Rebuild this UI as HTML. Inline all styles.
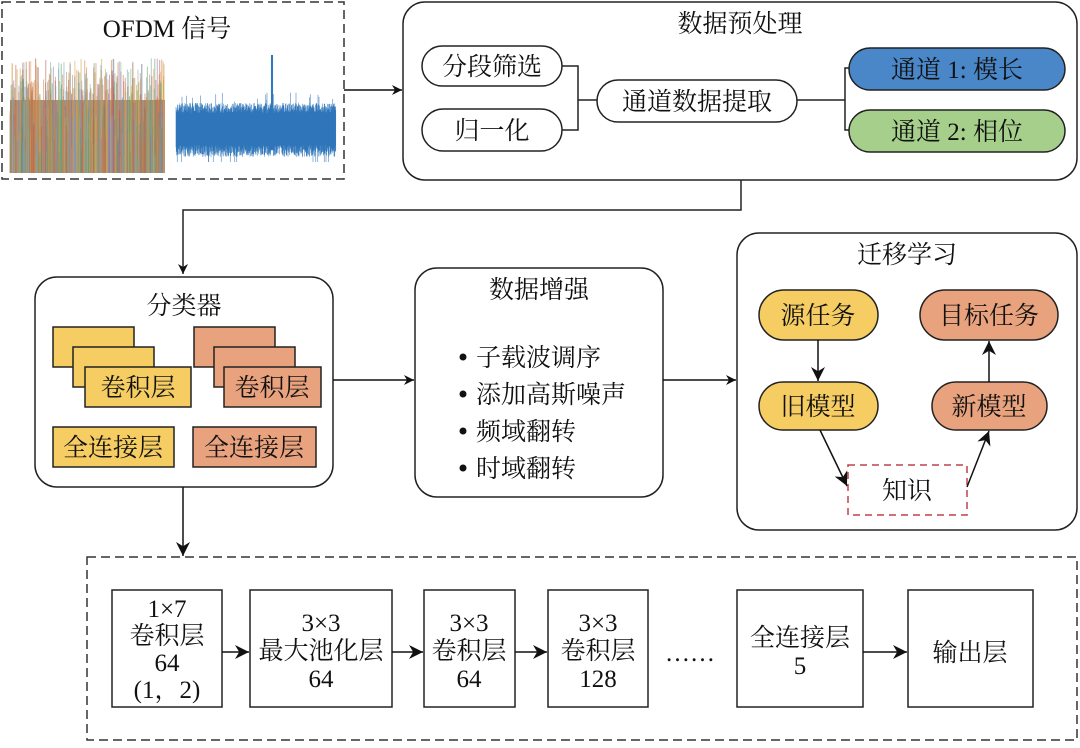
<!DOCTYPE html>
<html><head><meta charset="utf-8"><style>
html,body{margin:0;padding:0;background:#fff}
svg text{font-family:"Liberation Serif","Noto Serif CJK SC",serif;font-size:25px;fill:#111}
</style></head><body>
<svg id="s" width="1080" height="743" viewBox="0 0 1080 743" xmlns="http://www.w3.org/2000/svg">
<defs>
<marker id="a" viewBox="0 0 10 10" refX="10" refY="5" markerWidth="10" markerHeight="10" orient="auto" markerUnits="userSpaceOnUse"><path d="M0,0L10,5L0,10L3,5z" fill="#111"/></marker>
<marker id="b" viewBox="0 0 10 10" refX="10" refY="5" markerWidth="14" markerHeight="14" orient="auto" markerUnits="userSpaceOnUse"><path d="M0,0L10,5L0,10L3,5z" fill="#111"/></marker>
</defs>
<!-- OFDM -->
<rect x="2" y="2" width="342" height="177" fill="none" stroke="#333" stroke-width="1.5" stroke-dasharray="9,5"/>
<text x="167" y="37" text-anchor="middle">OFDM 信号</text>
<rect x="10" y="100" width="155" height="73" fill="#b09070"/>
<g id="sig"></g>
<line x1="344" y1="90" x2="402" y2="90" stroke="#111" stroke-width="1.5" marker-end="url(#a)"/>
<!-- preprocessing -->
<rect x="403" y="2" width="674" height="178" rx="22" fill="none" stroke="#222" stroke-width="1.5"/>
<text x="740" y="32" text-anchor="middle">数据预处理</text>
<rect x="422" y="46" width="140" height="40" rx="20" fill="#fff" stroke="#222" stroke-width="1.5"/>
<text x="492" y="75" text-anchor="middle">分段筛选</text>
<rect x="422" y="109" width="140" height="42" rx="21" fill="#fff" stroke="#222" stroke-width="1.5"/>
<text x="492" y="139" text-anchor="middle">归一化</text>
<path d="M562,66H578V130H562M578,100H597" fill="none" stroke="#222" stroke-width="1.5"/>
<rect x="597" y="80" width="200" height="42" rx="21" fill="#fff" stroke="#222" stroke-width="1.5"/>
<text x="697" y="110" text-anchor="middle">通道数据提取</text>
<path d="M797,100H845M849,68H845V130H849" fill="none" stroke="#222" stroke-width="1.5"/>
<rect x="849" y="48" width="216" height="42" rx="21" fill="#4a87c8" stroke="#222" stroke-width="1.5"/>
<text x="957" y="78" text-anchor="middle">通道 1: 模长</text>
<rect x="849" y="110" width="216" height="42" rx="21" fill="#a5cf8a" stroke="#222" stroke-width="1.5"/>
<text x="957" y="140" text-anchor="middle">通道 2: 相位</text>
<path d="M741,180V210H183V274" fill="none" stroke="#222" stroke-width="1.5" marker-end="url(#a)"/>
<!-- classifier -->
<rect x="35" y="277" width="298" height="210" rx="22" fill="none" stroke="#222" stroke-width="1.5"/>
<text x="184" y="314" text-anchor="middle">分类器</text>
<g stroke="#222" stroke-width="1.5">
<rect x="53" y="327" width="81" height="40" fill="#f5cd62"/>
<rect x="73" y="347" width="81" height="40" fill="#f5cd62"/>
<rect x="85" y="367" width="106" height="40" fill="#f5cd62"/>
<rect x="53" y="427" width="121" height="40" fill="#f5cd62"/>
<rect x="194" y="327" width="81" height="40" fill="#e8a27d"/>
<rect x="214" y="347" width="81" height="40" fill="#e8a27d"/>
<rect x="224" y="367" width="97" height="40" fill="#e8a27d"/>
<rect x="193" y="427" width="123" height="40" fill="#e8a27d"/>
</g>
<text x="138" y="396" text-anchor="middle">卷积层</text>
<text x="272" y="396" text-anchor="middle">卷积层</text>
<text x="113" y="456" text-anchor="middle">全连接层</text>
<text x="254" y="456" text-anchor="middle">全连接层</text>
<line x1="333" y1="380" x2="414" y2="380" stroke="#111" stroke-width="1.5" marker-end="url(#a)"/>
<!-- data enhancement -->
<rect x="415" y="268" width="248" height="229" rx="22" fill="none" stroke="#222" stroke-width="1.5"/>
<text x="539" y="298" text-anchor="middle">数据增强</text>
<g>
<circle cx="463" cy="357" r="3.5" fill="#111"/><text x="476" y="366">子载波调序</text>
<circle cx="463" cy="394" r="3.5" fill="#111"/><text x="476" y="403">添加高斯噪声</text>
<circle cx="463" cy="431" r="3.5" fill="#111"/><text x="476" y="440">频域翻转</text>
<circle cx="463" cy="468" r="3.5" fill="#111"/><text x="476" y="477">时域翻转</text>
</g>
<line x1="663" y1="380" x2="736" y2="380" stroke="#111" stroke-width="1.5" marker-end="url(#a)"/>
<!-- transfer -->
<rect x="737" y="233" width="340" height="297" rx="22" fill="none" stroke="#222" stroke-width="1.5"/>
<text x="907" y="263" text-anchor="middle">迁移学习</text>
<rect x="759" y="290" width="119" height="50" rx="25" fill="#f5cd62" stroke="#222" stroke-width="1.5"/>
<text x="818" y="324" text-anchor="middle">源任务</text>
<rect x="920" y="290" width="138" height="50" rx="25" fill="#e8a27d" stroke="#222" stroke-width="1.5"/>
<text x="989" y="324" text-anchor="middle">目标任务</text>
<rect x="759" y="382" width="119" height="48" rx="24" fill="#f5cd62" stroke="#222" stroke-width="1.5"/>
<text x="818" y="415" text-anchor="middle">旧模型</text>
<rect x="932" y="382" width="115" height="48" rx="24" fill="#e8a27d" stroke="#222" stroke-width="1.5"/>
<text x="989" y="415" text-anchor="middle">新模型</text>
<rect x="848" y="465" width="119" height="50" fill="#fff" stroke="#c0404a" stroke-width="1.5" stroke-dasharray="7,5"/>
<text x="907" y="499" text-anchor="middle">知识</text>
<g stroke="#111" stroke-width="1.5" fill="none">
<line x1="818" y1="340" x2="818" y2="381" marker-end="url(#b)"/>
<line x1="989" y1="382" x2="989" y2="341" marker-end="url(#b)"/>
<line x1="820" y1="430" x2="847" y2="486" marker-end="url(#b)"/>
<line x1="967" y1="487" x2="989" y2="431" marker-end="url(#b)"/>
<line x1="183" y1="487" x2="183" y2="556" marker-end="url(#b)"/>
</g>
<!-- bottom -->
<rect x="87" y="557" width="990" height="183" fill="none" stroke="#333" stroke-width="1.5" stroke-dasharray="9,5"/>
<g fill="#fff" stroke="#222" stroke-width="1.5">
<rect x="112" y="590" width="110" height="117"/>
<rect x="250" y="590" width="142" height="117"/>
<rect x="424" y="590" width="91" height="117"/>
<rect x="548" y="590" width="100" height="117"/>
<rect x="737" y="590" width="126" height="117"/>
<rect x="908" y="590" width="125" height="117"/>
</g>
<g text-anchor="middle">
<text x="167" y="617">1×7</text><text x="167" y="644">卷积层</text><text x="167" y="671">64</text><text x="167" y="698">(1，2)</text>
<text x="321" y="631">3×3</text><text x="321" y="659">最大池化层</text><text x="321" y="687">64</text>
<text x="469" y="631">3×3</text><text x="469" y="659">卷积层</text><text x="469" y="687">64</text>
<text x="598" y="631">3×3</text><text x="598" y="659">卷积层</text><text x="598" y="687">128</text>
<text x="690" y="661">……</text>
<text x="800" y="646">全连接层</text><text x="800" y="674">5</text>
<text x="970" y="661">输出层</text>
</g>
<g stroke="#111" stroke-width="1.5">
<line x1="222" y1="652" x2="249" y2="652" marker-end="url(#b)"/>
<line x1="392" y1="652" x2="423" y2="652" marker-end="url(#b)"/>
<line x1="515" y1="652" x2="547" y2="652" marker-end="url(#b)"/>
<line x1="863" y1="652" x2="907" y2="652" marker-end="url(#b)"/>
</g>
</svg>
<script>
(function(){var g=document.getElementById('sig'),ns='http://www.w3.org/2000/svg';
var cols=['#d4763a','#6aa8a0','#9a6fb0','#c8a040','#5a9a60','#c05a50','#7aa0c8','#b08a60','#e0a050','#80b090'];
var seed=7;function r(){seed=(seed*9301+49297)%233280;return seed/233280;}
function ln(x,y1,y2,c,w,o){var l=document.createElementNS(ns,'line');l.setAttribute('x1',x);l.setAttribute('x2',x);l.setAttribute('y1',y1);l.setAttribute('y2',y2);l.setAttribute('stroke',c);l.setAttribute('stroke-width',w);l.setAttribute('opacity',o);g.appendChild(l);}
for(var i=0;i<700;i++){var x=10+r()*155;var top=58+Math.pow(r(),0.8)*100;ln(x,top,173,cols[i%cols.length],1,0.55);}
for(var j=0;j<640;j++){var x2=176+j*0.25;var t=103+r()*10,b=145+r()*12;
if(r()<0.04)t=92+r()*12;if(r()<0.03)b=162;if(Math.abs(x2-272)<0.8){t=55;b=150;}
ln(x2,t,b,'#2a72b8',0.6,0.85);}
})();
</script>
</body></html>
